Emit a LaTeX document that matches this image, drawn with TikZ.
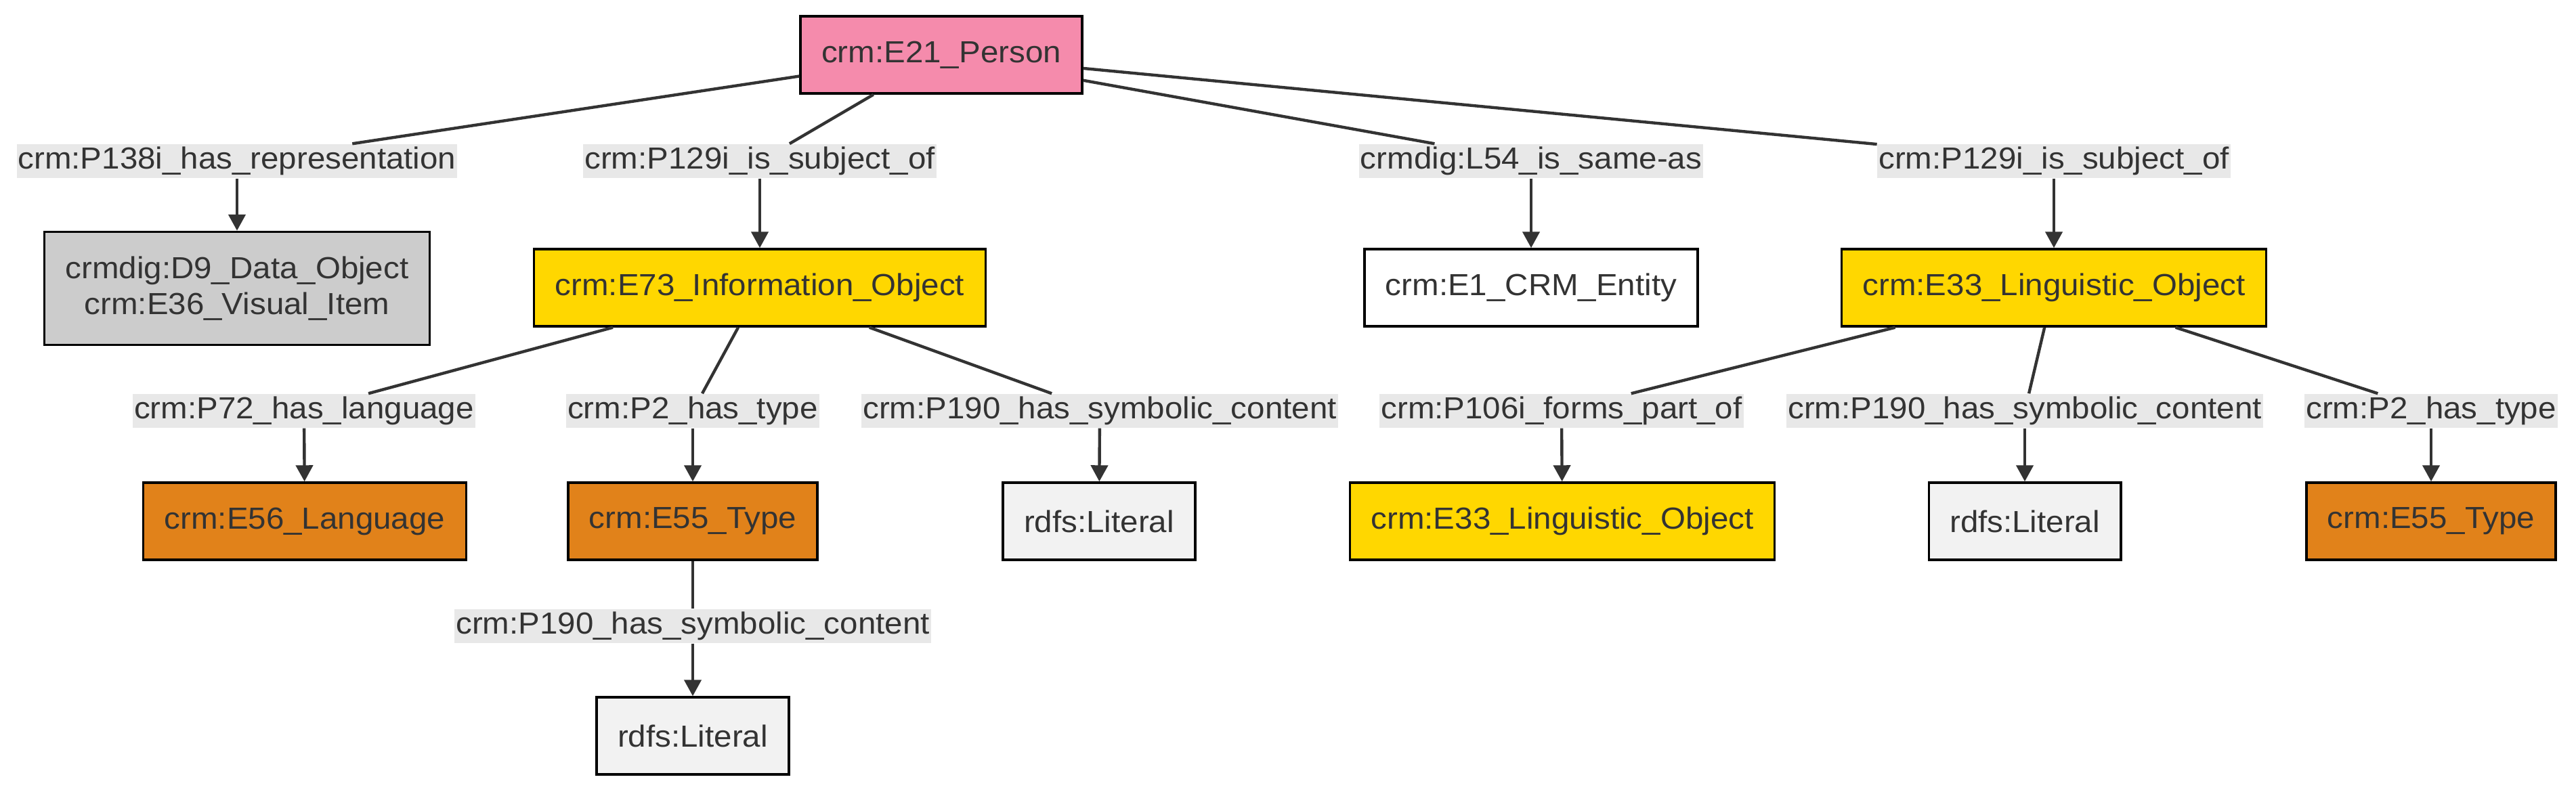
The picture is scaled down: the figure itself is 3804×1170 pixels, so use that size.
\documentclass[tikz,border=0pt]{standalone}
\usepackage{fontspec}
\setmainfont{Liberation Sans}[FakeStretch=1.055]
\usepackage{tikz}
\usetikzlibrary{arrows.meta}
\usepackage{xcolor}
\definecolor{personpink}{HTML}{F58BAC}
\definecolor{infogold}{HTML}{FFD700}
\definecolor{typeorange}{HTML}{E1821A}
\definecolor{datagray}{HTML}{CCCCCC}
\definecolor{literalgray}{HTML}{F2F2F2}
\definecolor{labelgray}{HTML}{E8E8E8}
\definecolor{inkgray}{HTML}{333333}

\begin{document}
\begin{tikzpicture}[
  x=0.01cm, y=-0.01cm,
  every node/.style={font=\fontsize{12.8pt}{15pt}\selectfont, text=inkgray},
  entity/.style={draw=black, line width=0.95pt, minimum height=1.14cm, inner xsep=0.31cm, align=center},
  prop/.style={fill=labelgray, inner xsep=0.02cm, inner ysep=0pt, minimum height=0.5cm},
  link/.style={draw=inkgray, line width=1.25pt},
  arrow/.style={link, -{Triangle[length=0.24cm, width=0.25cm]}}
]
\useasboundingbox (0,0) rectangle (3804,1170);

% Root
\node[entity, fill=personpink] (person) at (1390,81) {crm:E21\_Person};

% Properties of the person
\node[prop] (p138) at (350,238) {crm:P138i\_has\_representation};
\node[prop] (p129a) at (1122,238) {crm:P129i\_is\_subject\_of};
\node[prop] (l54) at (2261,238) {crmdig:L54\_is\_same-as};
\node[prop] (p129b) at (3033,238) {crm:P129i\_is\_subject\_of};

% First level classes
\node[entity, fill=datagray, minimum height=1.67cm] (dataobj) at (350,426) {crmdig:D9\_Data\_Object\\crm:E36\_Visual\_Item};
\node[entity, fill=infogold] (infoobj) at (1122,425) {crm:E73\_Information\_Object};
\node[entity, fill=white] (crmentity) at (2261,425) {crm:E1\_CRM\_Entity};
\node[entity, fill=infogold] (lingobj) at (3033,425) {crm:E33\_Linguistic\_Object};

% Second level properties
\node[prop] (p72) at (449,607) {crm:P72\_has\_language};
\node[prop] (p2a) at (1023,607) {crm:P2\_has\_type};
\node[prop] (p190a) at (1624,607) {crm:P190\_has\_symbolic\_content};
\node[prop] (p106) at (2306,607) {crm:P106i\_forms\_part\_of};
\node[prop] (p190b) at (2990,607) {crm:P190\_has\_symbolic\_content};
\node[prop] (p2b) at (3590,607) {crm:P2\_has\_type};

% Second level classes
\node[entity, fill=typeorange] (language) at (450,770) {crm:E56\_Language};
\node[entity, fill=typeorange] (typea) at (1023,770) {crm:E55\_Type};
\node[entity, fill=literalgray] (literala) at (1623,770) {rdfs:Literal};
\node[entity, fill=infogold] (lingpart) at (2307,770) {crm:E33\_Linguistic\_Object};
\node[entity, fill=literalgray] (literalb) at (2990,770) {rdfs:Literal};
\node[entity, fill=typeorange] (typeb) at (3590,770) {crm:E55\_Type};

% Third level
\node[prop] (p190c) at (1023,925) {crm:P190\_has\_symbolic\_content};
\node[entity, fill=literalgray] (literalc) at (1023,1087) {rdfs:Literal};

% Edges
\foreach \prop/\cls in {p138/dataobj, p129a/infoobj, l54/crmentity, p129b/lingobj} {
  \draw[link] (person) -- (\prop);
  \draw[arrow] (\prop) -- (\cls);
}
\foreach \prop/\cls in {p72/language, p2a/typea, p190a/literala} {
  \draw[link] (infoobj) -- (\prop);
  \draw[arrow] (\prop) -- (\cls);
}
\foreach \prop/\cls in {p106/lingpart, p190b/literalb, p2b/typeb} {
  \draw[link] (lingobj) -- (\prop);
  \draw[arrow] (\prop) -- (\cls);
}
\draw[link] (typea) -- (p190c);
\draw[arrow] (p190c) -- (literalc);

\end{tikzpicture}
\end{document}
